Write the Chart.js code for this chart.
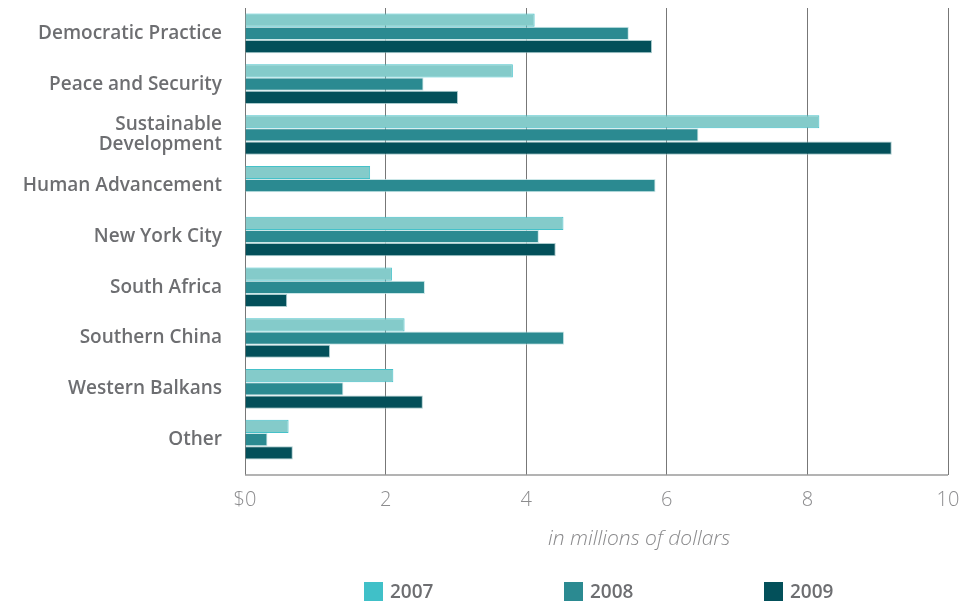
<!DOCTYPE html>
<html>
<head>
<meta charset="utf-8">
<script src="https://cdn.jsdelivr.net/npm/chart.js@4"></script>
<style>
  html, body { margin: 0; padding: 0; background: #fff; }
  #wrap { position: relative; width: 980px; height: 603px; }
  #chart { position: absolute; left: 0; top: 0; }
  #axisTitle {
    position: absolute; left: 548px; top: 523px;
    font: italic 300 21px "Open Sans", sans-serif; color: #8a8a8c;
    white-space: nowrap;
  }
  #legend { position: absolute; left: 364px; top: 582px; display: flex; }
  #legend .item { width: 200px; display: flex; align-items: center; }
  #legend .box { width: 19px; height: 19px; margin-right: 7px; }
  #legend .lbl { font: 600 19px "Open Sans", sans-serif; color: #6d6e71; line-height: 19px; }
</style>
</head>
<body>
<div id="wrap">
  <canvas id="chart" width="980" height="603"></canvas>
  <div id="axisTitle"></div>
  <div id="legend"></div>
</div>
<script>
// ---------- Data ----------
const categories = [
  'Democratic Practice', 'Peace and Security', ['Sustainable', 'Development'],
  'Human Advancement', 'New York City', 'South Africa', 'Southern China',
  'Western Balkans', 'Other'
];
const seriesNames = ['2007', '2008', '2009'];
const values2007 = [4.12, 3.81, 8.17, 1.78, 4.53, 2.09, 2.27, 2.11, 0.62];
const values2008 = [5.46, 2.54, 6.45, 5.84, 4.18, 2.56, 4.54, 1.40, 0.32];
const values2009 = [5.79, 3.03, 9.20, null, 4.42, 0.60, 1.21, 2.53, 0.68];
const xTickLabels = ['$0', '2', '4', '6', '8', '10'];
const axisTitle = 'in millions of dollars';

const fills   = ['#84cbca', '#2b8a91', '#03505a'];
const borders = ['#45c1c9', 'rgba(190,225,226,0.8)', 'rgba(150,190,192,0.8)'];
const legendColors = ['#40c0c8', '#2b8a91', '#03505a'];

Chart.defaults.font.family = '"Open Sans", "Liberation Sans", sans-serif';

// bottom axis line sits below the ticks, not on the chart area edge
const bottomLine = {
  id: 'bottomLine',
  beforeDatasetsDraw(chart) {
    const { ctx, chartArea, scales } = chart;
    const y = scales.x.top + 10;
    ctx.save();
    ctx.strokeStyle = '#9a9a9a';
    ctx.lineWidth = 1.5;
    ctx.beginPath();
    ctx.moveTo(chartArea.left, y);
    ctx.lineTo(chartArea.right, y);
    ctx.stroke();
    ctx.restore();
  }
};

const seriesData = [values2007, values2008, values2009];

new Chart(document.getElementById('chart'), {
  type: 'bar',
  data: {
    labels: categories,
    datasets: seriesNames.map((name, i) => ({
      label: name,
      data: seriesData[i],
      backgroundColor: fills[i],
      borderColor: borders[i],
      borderWidth: 1,
      borderSkipped: 'start',
      categoryPercentage: 0.78,
      barPercentage: 1.0,
    }))
  },
  options: {
    indexAxis: 'y',
    responsive: false,
    animation: false,
    layout: { padding: { left: 10, right: 32, top: 8, bottom: 78 } },
    plugins: { legend: { display: false }, tooltip: { enabled: false } },
    scales: {
      x: {
        min: 0, max: 10,
        afterFit: s => { s.paddingLeft = 0; s.paddingRight = 0; },
        ticks: {
          stepSize: 2,
          padding: 13,
          color: '#8c8c8e',
          font: { size: 20, weight: 300 },
          callback: (v, idx) => xTickLabels[idx],
        },
        grid: { color: '#777', lineWidth: 1, tickLength: 10, drawTicks: true },
        border: { display: false },
      },
      y: {
        afterFit: s => { s.width = 235; s.paddingTop = 0; s.paddingBottom = 0; },
        ticks: {
          autoSkip: false, padding: 0, color: '#6d6e71',
          font: { size: 19, weight: 600, lineHeight: 1.05 }
        },
        grid: { display: false, drawTicks: true, tickLength: 23 },
        border: { display: false },
      }
    }
  },
  plugins: [bottomLine]
});

// ---------- HTML legend + axis title ----------
document.getElementById('axisTitle').textContent = axisTitle;
document.getElementById('legend').innerHTML = seriesNames.map((n, i) =>
  `<div class="item"><span class="box" style="background:${legendColors[i]}"></span><span class="lbl">${n}</span></div>`
).join('');
</script>
</body>
</html>
